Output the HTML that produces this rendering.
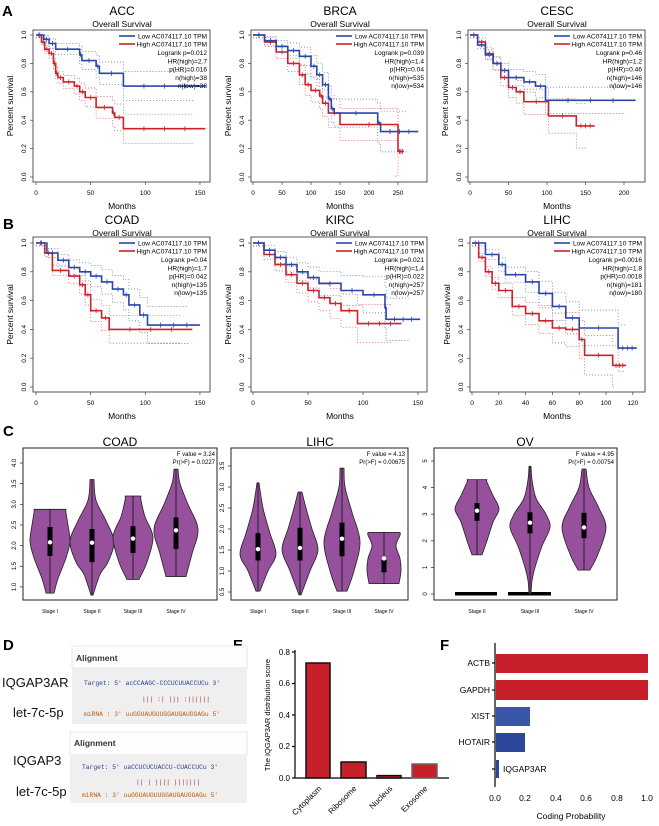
<!DOCTYPE html>
<html><head><meta charset="utf-8"><style>
html,body{margin:0;padding:0;background:#fff;}
svg{display:block;font-family:"Liberation Sans",Arial,sans-serif;}
</style></head><body>
<svg id="s" width="659" height="826" viewBox="0 0 659 826" xmlns="http://www.w3.org/2000/svg">
<g font-weight="bold" font-size="15" fill="#000">
<text x="2" y="16">A</text><text x="3" y="229">B</text><text x="3" y="436">C</text>
<text x="3" y="650">D</text><text x="233" y="650">E</text><text x="440" y="650">F</text>
</g>
<g font-size="12" text-anchor="middle">
<text x="122" y="15">ACC</text><text x="340" y="15">BRCA</text><text x="557" y="15">CESC</text>
<text x="122" y="224">COAD</text><text x="340" y="224">KIRC</text><text x="557" y="224">LIHC</text>
<text x="120" y="446">COAD</text><text x="320" y="446">LIHC</text><text x="525" y="446">OV</text>
</g>
<g font-size="8.5" text-anchor="middle">
<text x="122" y="27">Overall Survival</text><text x="340" y="27">Overall Survival</text><text x="557" y="27">Overall Survival</text>
<text x="122" y="236">Overall Survival</text><text x="340" y="236">Overall Survival</text><text x="557" y="236">Overall Survival</text>
<text x="122" y="209">Months</text><text x="340" y="209">Months</text><text x="557" y="209">Months</text>
<text x="122" y="419">Months</text><text x="340" y="419">Months</text><text x="557" y="419">Months</text>
</g>
<g id="km"></g>
<g id="vio"></g>
<g font-size="6" text-anchor="end">
<text x="215" y="456">F value = 3.24</text><text x="215" y="464">Pr(&gt;F) = 0.0227</text>
<text x="405" y="456">F value = 4.13</text><text x="405" y="464">Pr(&gt;F) = 0.00675</text>
<text x="614" y="456">F value = 4.95</text><text x="614" y="464">Pr(&gt;F) = 0.00754</text>
</g>
<g font-size="5" text-anchor="middle">
<text x="50" y="613">Stage I</text><text x="92" y="613">Stage II</text><text x="133" y="613">Stage III</text><text x="176" y="613">Stage IV</text>
<text x="258" y="613">Stage I</text><text x="300" y="613">Stage II</text><text x="342" y="613">Stage III</text><text x="384" y="613">Stage IV</text>
<text x="477" y="613">Stage II</text><text x="530" y="613">Stage III</text><text x="584" y="613">Stage IV</text>
</g>
<!-- D -->
<rect x="72" y="646" width="175" height="22" fill="#fdfdfd" stroke="#e8e8e8"/>
<rect x="72" y="668" width="175" height="56" fill="#efefef"/>
<rect x="70" y="732" width="177" height="23" fill="#fdfdfd" stroke="#e8e8e8"/>
<rect x="70" y="755" width="177" height="48" fill="#efefef"/>
<g font-size="8.5" font-weight="bold" fill="#333"><text x="76" y="661">Alignment</text><text x="74" y="746">Alignment</text></g>
<g font-size="13" fill="#111">
<text x="2" y="687">IQGAP3AR</text><text x="13" y="717">let-7c-5p</text>
<text x="13" y="765">IQGAP3</text><text x="16" y="796">let-7c-5p</text>
</g>
<g font-family="Liberation Mono,monospace" font-size="6.3">
<text x="84" y="685" fill="#2b3f96">Target: 5' acCCAAGC-CCCUCUUACCUCu 3'</text>
<text x="142" y="701" fill="#b02a3a">||| :|  ||| :||||||</text>
<text x="84" y="716" fill="#c05a10">miRNA : 3' uuGGUAUGUUGGAUGAUGGAGu 5'</text>
<text x="82" y="769" fill="#2b3f96">Target: 5' uaCCUCUCUACCU-CUACCUCu 3'</text>
<text x="136" y="784" fill="#b02a3a">||   | |||| |||||||</text>
<text x="82" y="797" fill="#c05a10">miRNA : 3' uuGGUAUGUUGGAUGAUGGAGu 5'</text>
</g>
<!-- E -->
<g stroke="#000" stroke-width="1.2">
<line x1="295" y1="650" x2="295" y2="778"/><line x1="295" y1="778" x2="449" y2="778"/>
<line x1="292" y1="652" x2="295" y2="652"/><line x1="292" y1="683.5" x2="295" y2="683.5"/><line x1="292" y1="715" x2="295" y2="715"/><line x1="292" y1="746.5" x2="295" y2="746.5"/><line x1="292" y1="778" x2="295" y2="778"/>
</g>
<g fill="#c8202a" stroke="#111" stroke-width="1.5">
<rect x="306" y="663" width="24" height="115"/>
<rect x="341" y="762" width="25" height="16"/>
<rect x="377" y="775.6" width="24" height="2.4"/>
<rect x="412" y="764" width="25" height="14" stroke="#666"/>
</g>
<g font-size="8" text-anchor="end">
<text x="290" y="655">0.8</text><text x="290" y="686">0.6</text><text x="290" y="718">0.4</text><text x="290" y="749">0.2</text><text x="290" y="781">0.0</text>
</g>
<text transform="translate(270,715) rotate(-90)" font-size="7.5" text-anchor="middle">The IQGAP3AR distribution score</text>
<g font-size="8" text-anchor="end">
<text transform="translate(322,789) rotate(-45)">Cytoplasm</text>
<text transform="translate(357,789) rotate(-45)">Ribosome</text>
<text transform="translate(393,789) rotate(-45)">Nucleus</text>
<text transform="translate(428,789) rotate(-45)">Exosome</text>
</g>
<!-- F -->
<g stroke="#000" stroke-width="1.2">
<line x1="495" y1="643" x2="495" y2="787"/>
<line x1="492" y1="663" x2="495" y2="663"/><line x1="492" y1="690" x2="495" y2="690"/><line x1="492" y1="716" x2="495" y2="716"/><line x1="492" y1="742" x2="495" y2="742"/><line x1="492" y1="769" x2="495" y2="769"/>
</g>
<rect x="496" y="654" width="152" height="19" fill="#c8202a"/>
<rect x="496" y="680" width="152" height="20" fill="#c8202a"/>
<rect x="496" y="707" width="34" height="19" fill="#3a56a8"/>
<rect x="496" y="733" width="29" height="19" fill="#2e4699"/>
<rect x="496" y="760" width="3" height="18" fill="#2e4699"/>
<g font-size="8.5" text-anchor="end">
<text x="490" y="666">ACTB</text><text x="490" y="693">GAPDH</text><text x="490" y="719">XIST</text><text x="490" y="745">HOTAIR</text>
</g>
<text x="503" y="772" font-size="8.5">IQGAP3AR</text>
<g font-size="8.5" text-anchor="middle">
<text x="495" y="801">0.0</text><text x="525" y="801">0.2</text><text x="556" y="801">0.4</text><text x="586" y="801">0.6</text><text x="617" y="801">0.8</text><text x="647" y="801">1.0</text>
<text x="571" y="819">Coding Probability</text>
</g>
</svg>
<script>
var NS="http://www.w3.org/2000/svg";
function el(p,t,a,txt){var e=document.createElementNS(NS,t);for(var k in a)e.setAttribute(k,a[k]);if(txt!=null)e.textContent=txt;p.appendChild(e);return e;}
var km=document.getElementById('km');
function plot(o){
 var bx=o.bx,ry=o.y1,r0=o.y0;
 var X=function(t){return o.x0+t*o.px;},Y=function(s){return r0-(r0-ry)*s;};
 el(km,'rect',{x:bx[0],y:bx[1],width:bx[2]-bx[0],height:bx[3]-bx[1],fill:'none',stroke:'#444','stroke-width':0.9});
 o.xt.forEach(function(t){el(km,'line',{x1:X(t),y1:bx[3],x2:X(t),y2:bx[3]+3,stroke:'#444','stroke-width':.7});el(km,'text',{x:X(t),y:bx[3]+13,'font-size':6.5,'text-anchor':'middle'},String(t));});
 [0,.2,.4,.6,.8,1].forEach(function(s){el(km,'line',{x1:bx[0]-3,y1:Y(s),x2:bx[0],y2:Y(s),stroke:'#444','stroke-width':.7});el(km,'text',{transform:'translate('+(bx[0]-7)+','+Y(s)+') rotate(-90)','font-size':6.5,'text-anchor':'middle'},s.toFixed(1));});
 el(km,'text',{transform:'translate('+(bx[0]-20)+','+((bx[1]+bx[3])/2)+') rotate(-90)','font-size':8.5,'text-anchor':'middle'},'Percent survival');
 [[o.red,o.redEnd,'#d0202a'],[o.blue,o.blueEnd,'#2a46a8']].forEach(function(c){
  var pts=c[0],end=c[1],col=c[2];
  ['u','l'].forEach(function(w){var d='';pts.forEach(function(p,i){var tt=p[0]/end;var dv=(0.02+0.16*tt)*(w=='u'?1:-1);var s=Math.max(0,Math.min(1,p[1]+dv));d+=(i==0?'M'+X(p[0]).toFixed(1)+','+Y(s).toFixed(1):'H'+X(p[0]).toFixed(1)+'V'+Y(s).toFixed(1));});d+='H'+X(end*0.93).toFixed(1);el(km,'path',{d:d,fill:'none',stroke:col,'stroke-width':.7,'stroke-dasharray':'1,2','opacity':.85});});
  var d='';pts.forEach(function(p,i){d+=(i==0?'M'+X(p[0])+','+Y(p[1]):'H'+X(p[0]).toFixed(1)+'V'+Y(p[1]).toFixed(1));});d+='H'+X(end);
  el(km,'path',{d:d,fill:'none',stroke:col,'stroke-width':1.6});
  for(var i=1;i<pts.length;i++){var tm=(pts[i-1][0]+pts[i][0])/2;el(km,'line',{x1:X(tm),y1:Y(pts[i-1][1])-2.5,x2:X(tm),y2:Y(pts[i-1][1])+2.5,stroke:col,'stroke-width':.8});}
  var l=pts[pts.length-1];for(var k=1;k<4;k++){var tm=l[0]+(end-l[0])*k/4;el(km,'line',{x1:X(tm),y1:Y(l[1])-2.5,x2:X(tm),y2:Y(l[1])+2.5,stroke:col,'stroke-width':.8});}
 });
 var rx=bx[2]-3,ty=bx[1]+6;
 el(km,'line',{x1:rx-88,y1:ty,x2:rx-72,y2:ty,stroke:'#2a46a8','stroke-width':1.6});
 el(km,'line',{x1:rx-88,y1:ty+8,x2:rx-72,y2:ty+8,stroke:'#d0202a','stroke-width':1.6});
 el(km,'text',{x:rx,y:ty+2.5,'font-size':6.6,'text-anchor':'end'},'Low AC074117.10 TPM');
 el(km,'text',{x:rx,y:ty+10.5,'font-size':6.6,'text-anchor':'end'},'High AC074117.10 TPM');
 o.st.forEach(function(s,i){el(km,'text',{x:rx,y:ty+19+i*8.3,'font-size':6.6,'text-anchor':'end'},s);});
}
plot({bx:[33,30,210,182],x0:36,px:1.093,y1:35,y0:177,xt:[0,50,100,150],
 blue:[[0,1],[7,.97],[12,.94],[18,.9],[40,.86],[42,.82],[55,.78],[58,.73],[80,.64]],blueEnd:155,
 red:[[0,1],[5,.95],[8,.9],[12,.87],[16,.8],[18,.73],[20,.7],[25,.67],[35,.64],[40,.6],[45,.56],[55,.49],[70,.45],[72,.42],[80,.34]],redEnd:155,
 st:['Logrank p=0.012','HR(high)=2.7','p(HR)=0.016','n(high)=38','n(low)=38']});
plot({bx:[251,30,427,182],x0:253,px:0.58,y1:35,y0:177,xt:[0,50,100,150,200,250],
 blue:[[0,1],[20,.96],[40,.92],[60,.89],[80,.85],[100,.78],[110,.72],[120,.65],[130,.55],[135,.48],[140,.45],[215,.38],[220,.32]],blueEnd:285,
 red:[[0,1],[20,.95],[40,.88],[60,.8],[80,.72],[90,.65],[100,.61],[115,.57],[120,.52],[130,.45],[150,.37],[250,.18]],redEnd:260,
 st:['Logrank p=0.039','HR(high)=1.4','p(HR)=0.04','n(high)=535','n(low)=534']});
plot({bx:[468,30,645,182],x0:470,px:0.77,y1:35,y0:177,xt:[0,50,100,150,200],
 blue:[[0,1],[10,.93],[20,.86],[30,.8],[40,.75],[50,.7],[70,.67],[85,.64],[98,.54]],blueEnd:215,
 red:[[0,1],[10,.95],[20,.87],[30,.8],[40,.7],[50,.63],[60,.6],[70,.53],[102,.43],[138,.36]],redEnd:162,
 st:['Logrank p=0.46','HR(high)=1.2','p(HR)=0.46','n(high)=146','n(low)=146']});
plot({bx:[33,237,210,392],x0:36,px:1.093,y1:243,y0:387,xt:[0,50,100,150],
 blue:[[0,1],[10,.93],[20,.88],[30,.83],[40,.8],[50,.77],[60,.73],[70,.68],[80,.64],[85,.57],[95,.5],[102,.43]],blueEnd:150,
 red:[[0,1],[8,.93],[15,.81],[30,.77],[40,.71],[45,.64],[50,.53],[60,.48],[67,.4]],redEnd:143,
 st:['Logrank p=0.04','HR(high)=1.7','p(HR)=0.042','n(high)=135','n(low)=135']});
plot({bx:[251,237,427,392],x0:253,px:1.1,y1:243,y0:387,xt:[0,50,100,150],
 blue:[[0,1],[10,.95],[20,.9],[30,.85],[40,.8],[50,.76],[60,.72],[80,.67],[100,.64],[120,.55],[121,.47]],blueEnd:152,
 red:[[0,1],[10,.92],[20,.85],[30,.78],[40,.72],[50,.67],[60,.62],[70,.58],[80,.53],[95,.44]],redEnd:135,
 st:['Logrank p=0.021','HR(high)=1.4','p(HR)=0.022','n(high)=257','n(low)=257']});
plot({bx:[470,237,645,392],x0:472,px:1.34,y1:243,y0:387,xt:[0,20,40,60,80,100,120],
 blue:[[0,1],[10,.92],[20,.85],[25,.78],[40,.73],[50,.65],[60,.56],[70,.48],[80,.41],[109,.27]],blueEnd:123,
 red:[[0,1],[5,.9],[10,.8],[15,.72],[20,.67],[30,.56],[40,.51],[50,.46],[60,.41],[70,.4],[80,.33],[84,.22],[105,.15]],redEnd:115,
 st:['Logrank p=0.0016','HR(high)=1.8','p(HR)=0.0018','n(high)=181','n(low)=180']});

var vg=document.getElementById('vio');
function vbox(bx,ticks,Y){el(vg,'rect',{x:bx[0],y:bx[1],width:bx[2]-bx[0],height:bx[3]-bx[1],fill:'none',stroke:'#222','stroke-width':1});
 ticks.forEach(function(t){el(vg,'line',{x1:bx[0]-3,y1:Y(t),x2:bx[0],y2:Y(t),stroke:'#222','stroke-width':.7});el(vg,'text',{transform:'translate('+(bx[0]-7)+','+Y(t)+') rotate(-90)','font-size':6,'text-anchor':'middle'},String(t));});}
function cr(P){var d='';for(var i=0;i<P.length-1;i++){var p0=P[Math.max(0,i-1)],p1=P[i],p2=P[i+1],p3=P[Math.min(P.length-1,i+2)];
 var c1=[p1[0]+(p2[0]-p0[0])/6,p1[1]+(p2[1]-p0[1])/6],c2=[p2[0]-(p3[0]-p1[0])/6,p2[1]-(p3[1]-p1[1])/6];
 d+='C'+c1[0].toFixed(1)+','+c1[1].toFixed(1)+' '+c2[0].toFixed(1)+','+c2[1].toFixed(1)+' '+p2[0].toFixed(1)+','+p2[1].toFixed(1);}return d;}
function violin(cx,Y,prof,med,q1,q3){
 var R=prof.map(function(p){return [cx+p[1],Y(p[0])];});
 var L=prof.slice().reverse().map(function(p){return [cx-p[1],Y(p[0])];});
 var d='M'+R[0][0]+','+R[0][1]+cr(R)+'L'+L[0][0]+','+L[0][1]+cr(L)+'Z';
 el(vg,'path',{d:d,fill:'#97509b',stroke:'#222','stroke-width':.8,'stroke-linejoin':'round'});
 el(vg,'line',{x1:cx,y1:Y(prof[0][0]),x2:cx,y2:Y(prof[prof.length-1][0]),stroke:'#111','stroke-width':.8});
 el(vg,'rect',{x:cx-2.5,y:Y(q3),width:5,height:Y(q1)-Y(q3),fill:'#000'});
 el(vg,'circle',{cx:cx,cy:Y(med),r:2.2,fill:'#fff'});
}
var Y1=function(v){return 463-(v-4)*41.3;};
vbox([23,448,217,600],['1.0','1.5','2.0','2.5','3.0','3.5','4.0'],function(t){return Y1(+t);});
violin(50,Y1,[[0.85,4],[1.2,8],[1.7,16],[2.1,20],[2.5,18],[2.8,16],[2.88,16]],2.08,1.75,2.45);
violin(92,Y1,[[0.8,1],[1.3,8],[1.6,16],[2.1,22],[2.6,14],[3.1,4],[3.6,2]],2.07,1.6,2.4);
violin(133,Y1,[[1.18,6],[1.6,14],[2.2,20],[2.7,12],[3.1,8],[3.2,8]],2.17,1.82,2.47);
violin(176,Y1,[[1.25,10],[1.8,16],[2.4,22],[3.0,12],[3.5,4],[3.85,2]],2.37,1.92,2.68);
var Y2=function(v){return 466-(v-3.5)*42;};
vbox([231,448,408,600],['0.5','1.0','1.5','2.0','2.5','3.0','3.5'],function(t){return Y2(+t);});
violin(258,Y2,[[0.52,2],[1.0,10],[1.4,18],[1.9,12],[2.5,5],[3.1,1]],1.52,1.25,1.9);
violin(300,Y2,[[0.43,1],[1.0,10],[1.5,18],[2.0,12],[2.5,6],[2.88,2]],1.55,1.25,2.03);
violin(342,Y2,[[0.52,5],[1.0,12],[1.7,18],[2.4,10],[3.0,3],[3.45,2]],1.77,1.35,2.15);
violin(384,Y2,[[0.7,15],[1.0,17],[1.3,16],[1.6,12],[1.85,16],[1.92,16]],1.3,0.97,1.27);
var Y3=function(v){return 594-v*26.6;};
vbox([434,448,617,600],['0','1','2','3','4','5'],function(t){return Y3(+t);});
el(vg,'rect',{x:455,y:592,width:42,height:3.5,fill:'#000'});
el(vg,'rect',{x:508,y:592,width:43,height:3.5,fill:'#000'});
violin(477,Y3,[[1.47,5],[2.0,10],[2.7,16],[3.2,22],[3.7,16],[4.2,10],[4.3,10]],3.13,2.75,3.42);
violin(530,Y3,[[0,1],[0.5,2],[1.0,5],[1.8,12],[2.5,20],[3.0,16],[3.6,6],[4.3,2],[4.8,1]],2.68,2.28,3.07);
violin(584,Y3,[[0.9,6],[1.5,14],[2.5,22],[3.3,14],[4.0,5],[4.7,2]],2.5,2.1,3.05);
</script>
</body></html>
